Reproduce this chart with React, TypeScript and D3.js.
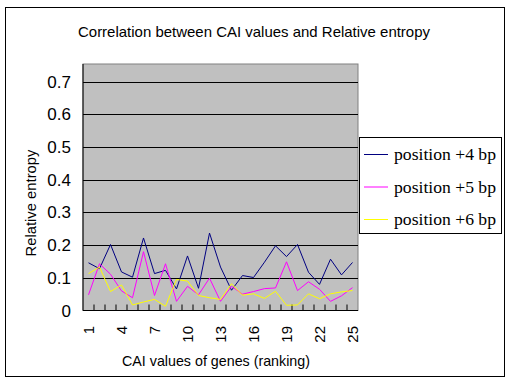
import React from "react";
import * as d3 from "d3";

const categories = d3.range(1, 26).map(String);
const tickLabels = ["1", "4", "7", "10", "13", "16", "19", "22", "25"];
const yTicks = [0, 0.1, 0.2, 0.3, 0.4, 0.5, 0.6, 0.7];
const pos4 = [0.146, 0.128, 0.202, 0.118, 0.102, 0.222, 0.113, 0.123, 0.066, 0.167, 0.068, 0.237, 0.133, 0.062, 0.107, 0.101, 0.148, 0.198, 0.165, 0.202, 0.117, 0.080, 0.157, 0.109, 0.147];
const pos5 = [0.048, 0.143, 0.111, 0.060, 0.039, 0.180, 0.046, 0.143, 0.028, 0.074, 0.048, 0.099, 0.028, 0.074, 0.050, 0.058, 0.067, 0.069, 0.149, 0.061, 0.088, 0.065, 0.028, 0.045, 0.070];
const pos6 = [0.113, 0.133, 0.058, 0.078, 0.017, 0.026, 0.034, 0.013, 0.095, 0.090, 0.046, 0.039, 0.034, 0.082, 0.047, 0.051, 0.037, 0.059, 0.016, 0.017, 0.051, 0.036, 0.051, 0.057, 0.061];
const seriesNames = ["position +4 bp", "position +5 bp", "position +6 bp"];
const seriesColors = ["#000080", "#FF00FF", "#FFFF00"];
const yMax = 0.7545;

export default function App() {
  const L = 83, R = 358, T = 64, B = 310.5;
  const x = d3.scaleBand().domain(categories).range([L, R]);
  const y = d3.scaleLinear().domain([0, yMax]).range([B, T]);
  const line = d3
    .line<number>()
    .x((_, i) => (x(categories[i]) as number) + x.bandwidth() / 2)
    .y((d) => y(d));
  const series = [pos4, pos5, pos6];
  const sans = "'Liberation Sans', Arial, sans-serif";
  const serif = "'Liberation Serif', 'Times New Roman', serif";
  return (
    <svg width={512} height={384} style={{ position: "absolute", left: 0, top: 0 }}>
      <rect x={0} y={0} width={512} height={384} fill="#fff" />
      <rect x={5.5} y={7.5} width={499} height={369} fill="#fff" stroke="#000" strokeWidth={1} />
      <text x={254} y={37} textAnchor="middle" fontFamily={sans} fontSize={15} textLength={352} lengthAdjust="spacingAndGlyphs" fill="#000">
        Correlation between CAI values and Relative entropy
      </text>
      <rect x={L} y={T} width={R - L} height={B - T} fill="#C0C0C0" stroke="#808080" strokeWidth={1} />
      {yTicks.filter((t) => t > 0).map((t) => (
        <line key={t} x1={L} x2={R} y1={Math.round(y(t)) + 0.5} y2={Math.round(y(t)) + 0.5} stroke="#000" strokeWidth={1} />
      ))}
      {categories.slice(1).map((c) => (
        <line key={c} x1={(x(c) as number)} x2={(x(c) as number)} y1={B} y2={B - 6} stroke="#000" strokeWidth={1} />
      ))}
      <line x1={L} x2={R} y1={B} y2={B} stroke="#000" strokeWidth={1} />
      <line x1={L} x2={L} y1={T} y2={B} stroke="#000" strokeWidth={1} />
      {series.map((s, i) => (
        <path key={i} d={line(s) as string} fill="none" stroke={seriesColors[i]} strokeWidth={1} />
      ))}
      {yTicks.map((t) => (
        <text key={t} x={71} y={y(t) + 6} textAnchor="end" fontFamily={sans} fontSize={17} fill="#000">
          {t === 0 ? "0" : t.toFixed(1)}
        </text>
      ))}
      {tickLabels.map((c) => {
        const cx = (x(c) as number) + x.bandwidth() / 2;
        return (
          <text key={c} transform={`translate(${cx + 5},${326}) rotate(-90)`} textAnchor="end" fontFamily={sans} fontSize={15} fill="#000">
            {c}
          </text>
        );
      })}
      <text x={216} y={366} textAnchor="middle" fontFamily={sans} fontSize={15} textLength={188} lengthAdjust="spacingAndGlyphs" fill="#000">
        CAI values of genes (ranking)
      </text>
      <text transform="translate(36,203) rotate(-90)" textAnchor="middle" fontFamily={sans} fontSize={15} textLength={107} lengthAdjust="spacingAndGlyphs" fill="#000">
        Relative entropy
      </text>
      <rect x={359.5} y={137.5} width={142} height={96} fill="#fff" stroke="#000" strokeWidth={1} />
      {seriesNames.map((n, i) => {
        const ly = 154.5 + i * 32.5;
        return (
          <g key={n}>
            <line x1={364} x2={388} y1={ly} y2={ly} stroke={seriesColors[i]} strokeWidth={1} />
            <text x={394} y={ly + 5.5} fontFamily={serif} fontSize={17} textLength={102} lengthAdjust="spacingAndGlyphs" fill="#000">
              {n}
            </text>
          </g>
        );
      })}
    </svg>
  );
}
